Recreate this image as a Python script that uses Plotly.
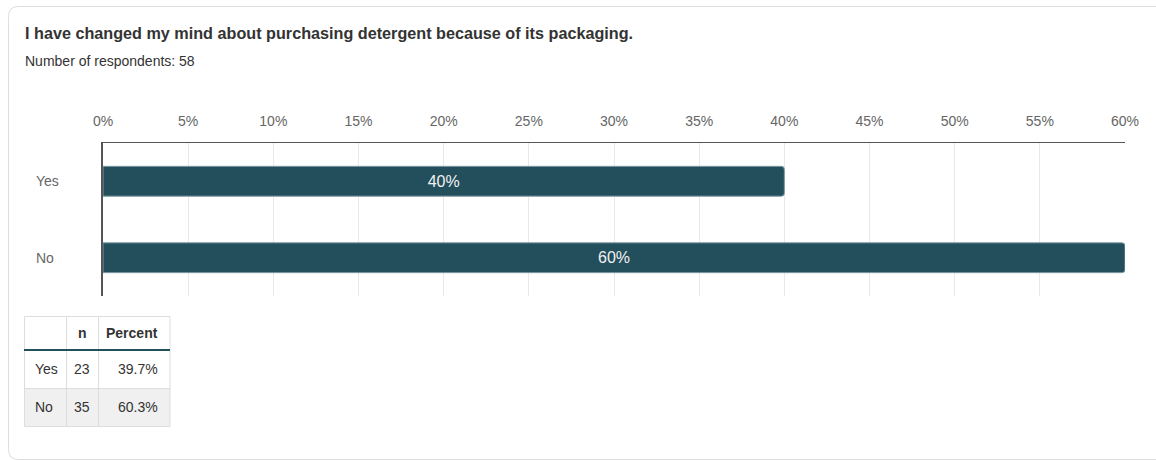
import plotly.graph_objects as go

W, H = 1156, 460

title = "I have changed my mind about purchasing detergent because of its packaging."
subtitle = "Number of respondents: 58"

categories = ["Yes", "No"]
bar_percent = [40, 60]          # shown rounded on the bars
counts = [23, 35]
percent_exact = ["39.7%", "60.3%"]
table_header = ["", "n", "Percent"]
tick_values = [0, 5, 10, 15, 20, 25, 30, 35, 40, 45, 50, 55, 60]
tick_labels = [f"{v}%" for v in tick_values]

BAR = "#234e5c"
TEXT = "#333333"
MUTED = "#666666"
FONT = "Liberation Sans, Arial, Helvetica, sans-serif"


def px(x):
    return x / W


def py(y):
    return 1 - y / H


fig = go.Figure()

fig.add_trace(go.Bar(
    x=bar_percent,
    y=categories,
    orientation="h",
    width=0.39,
    marker=dict(color=BAR, line=dict(color="#7e9aa3", width=1), cornerradius=3),
    text=[f"{v}%" for v in bar_percent],
    textposition="inside",
    insidetextanchor="middle",
    textfont=dict(color="#f2f2f2", size=16, family=FONT),
    hoverinfo="skip",
    showlegend=False,
))

annotations = [
    dict(text=f"<b>{title}</b>", x=px(23), y=py(33), xref="paper", yref="paper",
         xanchor="left", yanchor="middle", showarrow=False,
         font=dict(size=16.2, color=TEXT)),
    dict(text=subtitle, x=px(23), y=py(61), xref="paper", yref="paper",
         xanchor="left", yanchor="middle", showarrow=False,
         font=dict(size=14, color=TEXT)),
]
for c in categories:
    annotations.append(dict(text=c, x=px(34), y=c, xref="paper", yref="y",
                            xanchor="left", yanchor="middle", showarrow=False,
                            font=dict(size=14, color=MUTED)))

shapes = [
    # card outline
    dict(type="path", xref="paper", yref="paper", layer="below",
         path=f"M {px(1170)} {py(6.5)} L {px(18.5)} {py(6.5)} "
              f"Q {px(8.5)} {py(6.5)} {px(8.5)} {py(16.5)} "
              f"L {px(8.5)} {py(449.5)} Q {px(8.5)} {py(459.5)} {px(18.5)} {py(459.5)} "
              f"L {px(1170)} {py(459.5)}",
         line=dict(color="#dedede", width=1)),
]

# summary table: header row + one row per category
col_edges = [24, 66, 98, 169.5]
row_edges = [316, 350, 388, 426]
col_align = ["left", "center", "right"]
rows = [table_header] + [[c, str(n), p] for c, n, p in zip(categories, counts, percent_exact)]

for r, row in enumerate(rows):
    y0, y1 = row_edges[r], row_edges[r + 1]
    fill = "#f0f0f0" if r == 2 else "white"
    for ci, val in enumerate(row):
        x0, x1 = col_edges[ci], col_edges[ci + 1]
        shapes.append(dict(type="rect", xref="paper", yref="paper", layer="below",
                           x0=px(x0 + 0.5), x1=px(x1 + 0.5), y0=py(y0 + 0.5), y1=py(y1 + 0.5),
                           fillcolor=fill, line=dict(color="#dddddd", width=1)))
        if not val:
            continue
        al = col_align[ci]
        if al == "left":
            xt = x0 + 9
        elif al == "center":
            xt = (x0 + x1) / 2
        else:
            xt = x1 - 9.5
        annotations.append(dict(
            text=f"<b>{val}</b>" if r == 0 else val,
            x=px(xt), y=py((y0 + y1) / 2), xref="paper", yref="paper",
            xanchor=al, yanchor="middle", showarrow=False,
            font=dict(size=14, color=TEXT)))

# rule under the table header
shapes.append(dict(type="line", xref="paper", yref="paper",
                   x0=px(24), x1=px(170), y0=py(350), y1=py(350),
                   line=dict(color=BAR, width=2)))

fig.update_layout(
    template="none",
    width=W, height=H,
    autosize=False,
    margin=dict(l=0, r=0, t=0, b=0, pad=0),
    paper_bgcolor="white",
    plot_bgcolor="white",
    font=dict(family=FONT, color=TEXT),
    annotations=annotations,
    shapes=shapes,
    xaxis=dict(
        domain=[px(103), px(1125)],
        range=[0, 60],
        side="top",
        automargin=False,
        tickvals=tick_values,
        ticktext=tick_labels,
        tickfont=dict(size=14, color=MUTED),
        ticklabelstandoff=10,
        showgrid=True,
        gridcolor="#e8e8e8",
        gridwidth=1,
        zeroline=False,
        showline=True,
        linecolor="#555555",
        linewidth=1,
        ticks="",
        fixedrange=True,
    ),
    yaxis=dict(
        domain=[py(296), py(143)],
        range=[1.5, -0.5],
        automargin=False,
        showticklabels=False,
        showgrid=False,
        zeroline=False,
        showline=True,
        linecolor="#555555",
        linewidth=1.5,
        ticks="",
        fixedrange=True,
    ),
)

fig.write_html(
    "out.html",
    config={"displayModeBar": False, "responsive": False},
    post_script="document.body.style.margin='0';document.body.style.overflow='hidden';",
)
